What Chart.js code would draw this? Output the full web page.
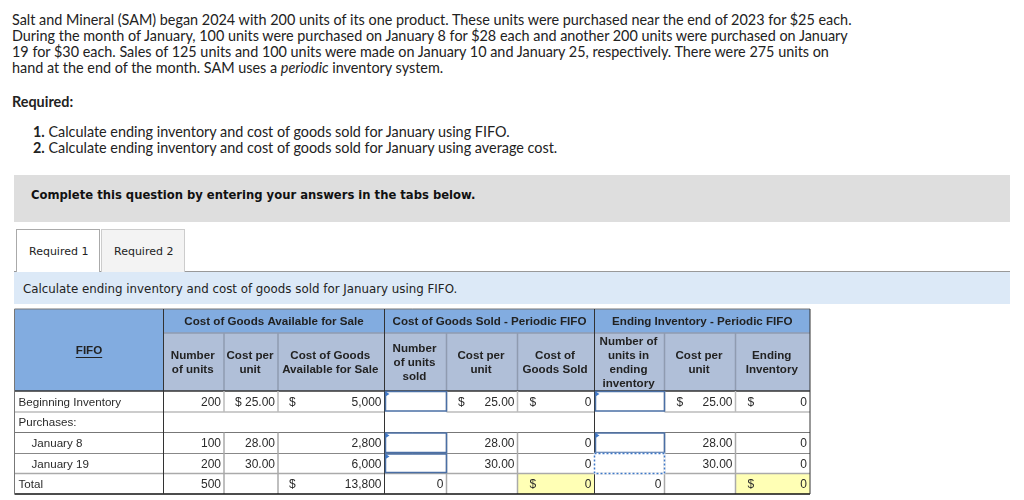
<!DOCTYPE html>
<html>
<head>
<meta charset="utf-8">
<script src="https://cdn.jsdelivr.net/npm/chart.js@4"></script>
<style>
  html, body { margin: 0; padding: 0; background: #fff; overflow: hidden; }
  body { width: 1024px; height: 500px; position: relative; }
  .t { position: absolute; white-space: nowrap; color: #222; font: 14.4px/16px Lato, sans-serif; }
  .box { position: absolute; box-sizing: border-box; }
  .v { font-family: "DejaVu Sans", sans-serif; }
  canvas { position: absolute; left: 0; top: 305px; }
</style>
</head>
<body>
<div class="t" style="left:12px;top:12px">Salt and Mineral (SAM) began 2024 with 200 units of its one product. These units were purchased near the end of 2023 for $25 each.</div>
<div class="t" style="left:12px;top:28px">During the month of January, 100 units were purchased on January 8 for $28 each and another 200 units were purchased on January</div>
<div class="t" style="left:12px;top:44px">19 for $30 each. Sales of 125 units and 100 units were made on January 10 and January 25, respectively. There were 275 units on</div>
<div class="t" style="left:12px;top:60px">hand at the end of the month. SAM uses a <i>periodic</i> inventory system.</div>
<div class="t" style="left:12px;top:94px"><b>Required:</b></div>
<div class="t" style="left:33px;top:124px"><b>1.</b> Calculate ending inventory and cost of goods sold for January using FIFO.</div>
<div class="t" style="left:33px;top:140px"><b>2.</b> Calculate ending inventory and cost of goods sold for January using average cost.</div>

<div class="box" style="left:14px;top:175px;width:996px;height:47px;background:#dedede"></div>
<div class="t v" style="left:31px;top:187px;font-size:11.6px;font-weight:bold;color:#111">Complete this question by entering your answers in the tabs below.</div>

<div class="box" style="left:14px;top:271px;width:996px;height:1px;background:#999"></div>
<div class="box" style="left:16px;top:229px;width:84px;height:43px;background:#fff;border:1px solid #aaa;border-bottom:none"></div>
<div class="box" style="left:101px;top:229px;width:84px;height:43px;background:#f3f3f3;border:1px solid #ccc;border-bottom:none"></div>
<div class="t v" style="left:29px;top:244px;font-size:11px">Required 1</div>
<div class="t v" style="left:114px;top:244px;font-size:11px">Required 2</div>

<div class="box" style="left:14px;top:272px;width:996px;height:32px;background:#dce9f7"></div>
<div class="t v" style="left:23px;top:281px;font-size:11.83px">Calculate ending inventory and cost of goods sold for January using FIFO.</div>

<canvas id="fifoTable" width="825" height="195"></canvas>

<script>
const rowLabels = ['Beginning Inventory', 'Purchases:', 'January 8', 'January 19', 'Total'];
const groupHeaders = ['Cost of Goods Available for Sale', 'Cost of Goods Sold - Periodic FIFO', 'Ending Inventory - Periodic FIFO'];
const colHeaders = [
    ['Number', 'of units'], ['Cost per', 'unit'], ['Cost of Goods', 'Available for Sale'],
    ['Number', 'of units', 'sold'], ['Cost per', 'unit'], ['Cost of', 'Goods Sold'],
    ['Number of', 'units in', 'ending', 'inventory'], ['Cost per', 'unit'], ['Ending', 'Inventory']
];
const unitsAvailable = ['200', '', '100', '200', '500'];
const costAvailable = ['$ 25.00', '', '28.00', '30.00', ''];
const totalAvailable = ['5,000', '', '2,800', '6,000', '13,800'];
const unitsSold = ['', '', '', '', '0'];
const costSold = ['25.00', '', '28.00', '30.00', ''];
const totalSold = ['0', '', '0', '0', '0'];
const unitsEnding = ['', '', '', '', '0'];
const costEnding = ['25.00', '', '28.00', '30.00', ''];
const totalEnding = ['0', '', '0', '0', '0'];
const valueColumns = [unitsAvailable, costAvailable, totalAvailable, unitsSold, costSold, totalSold, unitsEnding, costEnding, totalEnding];

// layout of the table, in page pixels
const colEdges = [14.5, 163.5, 224, 278, 384.5, 446.5, 517.5, 594.5, 664.5, 735.5, 810];
const rowEdges = [309, 333, 391, 412, 432.5, 453.5, 473.5, 494];
const dollars = [[3, 0], [3, 4], [5, 0], [6, 0], [6, 4], [8, 0], [9, 0], [9, 4]]; // [column, row]
const dollarOffset = { 3: 11, 5: 11.5, 6: 12, 8: 12, 9: 12 };
const yellowCells = [[6, 4], [9, 4]];
const inputCells = [[4, 0], [4, 2], [4, 3], [7, 0], [7, 2]];
const FONT = '"Liberation Sans", Arial, sans-serif';

const rowMid = r => (rowEdges[r + 2] + rowEdges[r + 3]) / 2;

// one invisible scatter set per column, the labels are drawn at its points
const dsets = valueColumns.map((col, c) => ({
    data: col.map((text, r) => ({ x: colEdges[c + 2] - 3, y: rowMid(r), text: text })),
    pointRadius: 0
}));
dsets.push({
    data: rowLabels.map((text, r) => ({ x: colEdges[0] + ((r == 2 || r == 3) ? 17 : 4), y: rowMid(r), text: text, left: true, size: 11.6 })),
    pointRadius: 0
});
dsets.push({
    data: dollars.map(d => ({ x: colEdges[d[0]] + dollarOffset[d[0]], y: rowMid(d[1]), text: '$', left: true })),
    pointRadius: 0
});

const tablePlugin = {
    id: 'tablePlugin',
    beforeDatasetsDraw(chart) {
        const ctx = chart.ctx;
        const X = v => chart.scales.x.getPixelForValue(v);
        const Y = v => chart.scales.y.getPixelForValue(v);
        const fill = (x0, y0, x1, y1, color) => {
            ctx.fillStyle = color;
            ctx.fillRect(X(x0), Y(y0), X(x1) - X(x0), Y(y1) - Y(y0));
        };
        const line = (x0, y0, x1, y1, color, w) => {
            ctx.strokeStyle = color;
            ctx.lineWidth = w || 1;
            ctx.beginPath();
            ctx.moveTo(X(x0), Y(y0));
            ctx.lineTo(X(x1), Y(y1));
            ctx.stroke();
        };
        const L = colEdges[0], R = colEdges[10];

        fill(L, rowEdges[0], colEdges[1], rowEdges[2], '#82ace0');
        fill(colEdges[1], rowEdges[0], R, rowEdges[1], '#82ace0');
        fill(colEdges[1], rowEdges[1], R, rowEdges[2], '#b0bfd8');
        yellowCells.forEach(c => fill(colEdges[c[0]], rowEdges[c[1] + 2], colEdges[c[0] + 1], rowEdges[c[1] + 3], '#ffffb5'));

        // header lines
        line(L, rowEdges[0], R, rowEdges[0], '#777');
        line(colEdges[1], rowEdges[1], R, rowEdges[1], '#8f9bb0', 1.5);
        [2, 3, 5, 6, 8, 9].forEach(c => line(colEdges[c], rowEdges[1], colEdges[c], rowEdges[2], '#8f9bb0', 1.5));
        line(L, rowEdges[2], R, rowEdges[2], '#333', 1.5);

        // body lines
        line(L, rowEdges[3], colEdges[4], rowEdges[3], '#bbb', 1.5);
        line(colEdges[5], rowEdges[3], colEdges[7], rowEdges[3], '#bbb', 1.5);
        line(colEdges[8], rowEdges[3], R, rowEdges[3], '#bbb', 1.5);
        line(L, rowEdges[4], R, rowEdges[4], '#777');
        line(L, rowEdges[5], R, rowEdges[5], '#888');
        line(L, rowEdges[6], R, rowEdges[6], '#aaa', 1.5);
        [2, 3, 5, 6, 8, 9].forEach(c => {
            line(colEdges[c], rowEdges[2], colEdges[c], rowEdges[3], '#bbb', 1.5);
            line(colEdges[c], rowEdges[4], colEdges[c], rowEdges[7], '#aaa', 1.5);
        });
        line(L, rowEdges[7], R, rowEdges[7], '#111', 1.5);
        line(L, rowEdges[0], L, rowEdges[7], '#777');
        line(R, rowEdges[0], R, rowEdges[7], '#333');
        [1, 4, 7].forEach(c => line(colEdges[c], rowEdges[0], colEdges[c], rowEdges[7], '#333'));

        // answer boxes
        inputCells.forEach(c => {
            const x0 = colEdges[c[0]] + 1, x1 = colEdges[c[0] + 1], y0 = rowEdges[c[1] + 2] + 0.5, y1 = rowEdges[c[1] + 3] - 1;
            ctx.strokeStyle = '#4a6fa5';
            ctx.lineWidth = 1.5;
            ctx.strokeRect(X(x0), Y(y0), X(x1) - X(x0), Y(y1) - Y(y0));
            ctx.fillStyle = '#3f78c8';
            ctx.beginPath();
            ctx.moveTo(X(x0), Y(y0));
            ctx.lineTo(X(x0 + 4), Y(y0 + 2.5));
            ctx.lineTo(X(x0), Y(y0 + 5));
            ctx.fill();
        });

        // dotted box of the focused cell
        const dx = X(colEdges[7]), dy = Y(rowEdges[5]), dw = X(colEdges[8]) - dx, dh = Y(rowEdges[6]) - dy;
        ctx.save();
        ctx.lineWidth = 1.5;
        ctx.strokeStyle = '#fff';
        ctx.strokeRect(dx, dy, dw, dh);
        ctx.setLineDash([2, 2]);
        ctx.strokeStyle = '#3f78c8';
        ctx.strokeRect(dx, dy, dw, dh);
        ctx.restore();
    },
    afterDatasetsDraw(chart) {
        const ctx = chart.ctx;
        const X = v => chart.scales.x.getPixelForValue(v);
        const Y = v => chart.scales.y.getPixelForValue(v);
        ctx.textBaseline = 'middle';

        chart.data.datasets.forEach((ds, i) => {
            chart.getDatasetMeta(i).data.forEach((el, j) => {
                const p = ds.data[j];
                ctx.font = (p.size || 12) + 'px ' + FONT;
                ctx.fillStyle = '#2a2a2a';
                ctx.textAlign = p.left ? 'left' : 'right';
                ctx.fillText(p.text, el.x, el.y + 1);
            });
        });

        ctx.font = 'bold 11.6px ' + FONT;
        ctx.fillStyle = '#222';
        ctx.textAlign = 'center';
        [[2, 5], [5, 8], [8, 11]].forEach((g, i) => {
            ctx.fillText(groupHeaders[i], X((colEdges[g[0] - 1] + colEdges[g[1] - 1]) / 2), Y((rowEdges[0] + rowEdges[1]) / 2 + 1));
        });
        colHeaders.forEach((lines, c) => {
            const mid = (rowEdges[1] + rowEdges[2]) / 2;
            lines.forEach((text, k) => {
                ctx.fillText(text, X((colEdges[c + 1] + colEdges[c + 2]) / 2 - 1), Y(mid + (k - (lines.length - 1) / 2) * 14 + 1));
            });
        });

        // FIFO heading with its underline
        const fx = X((colEdges[0] + colEdges[1]) / 2), fy = Y(351);
        ctx.fillText('FIFO', fx, fy);
        const w = ctx.measureText('FIFO').width;
        ctx.strokeStyle = '#222';
        ctx.lineWidth = 1;
        ctx.beginPath();
        ctx.moveTo(fx - w / 2, fy + 6.5);
        ctx.lineTo(fx + w / 2, fy + 6.5);
        ctx.stroke();
    }
};

new Chart(document.querySelector('#fifoTable'), {
    type: 'scatter',
    data: { datasets: dsets },
    plugins: [tablePlugin],
    options: {
        responsive: false,
        animation: false,
        devicePixelRatio: 1,
        layout: { padding: 0 },
        plugins: { legend: { display: false }, tooltip: { enabled: false } },
        scales: {
            x: { type: 'linear', display: false, min: 0, max: 825 },
            y: { type: 'linear', display: false, min: 305, max: 500, reverse: true }
        }
    }
});
</script>
</body>
</html>
